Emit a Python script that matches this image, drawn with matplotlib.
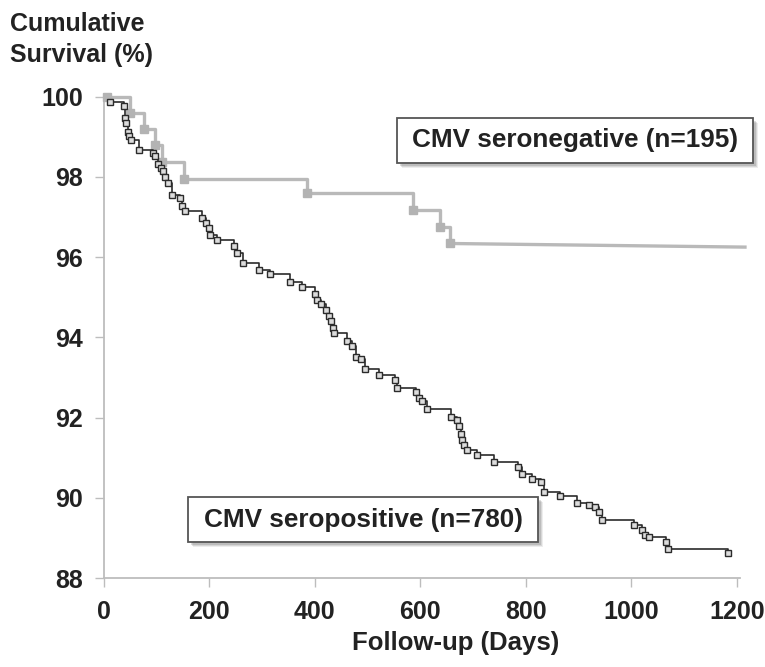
"""
Kaplan-Meier style cumulative survival: CMV seropositive vs seronegative.
"""
import numpy as np
import matplotlib
matplotlib.use("Agg")
import matplotlib.pyplot as plt
from matplotlib.patches import Rectangle

plt.rcParams["font.family"] = ["Liberation Sans", "DejaVu Sans"]

# ============================================================
# Data
# ============================================================

# CMV seropositive (n=780): event day and survival (%) after the event
pos_days = [12, 39, 41, 43, 46, 49, 52, 67, 94, 98, 104, 108, 113, 117, 123, 130,
            144, 149, 155, 187, 195, 199, 202, 215, 247, 253, 265, 294, 316, 354,
            376, 400, 404, 412, 422, 427, 430, 435, 437, 462, 471, 479, 488, 496,
            521, 553, 556, 591, 597, 603, 613, 659, 669, 673, 677, 679, 682, 689,
            708, 739, 786, 792, 812, 829, 834, 864, 897, 919, 930, 938, 944, 1004,
            1020, 1026, 1033, 1065, 1070, 1182]
pos_surv = [99.86, 99.76, 99.48, 99.35, 99.11, 99.01, 98.91, 98.68, 98.60, 98.51,
            98.31, 98.22, 98.14, 98.00, 97.85, 97.56, 97.47, 97.27, 97.15, 96.98,
            96.85, 96.73, 96.56, 96.42, 96.28, 96.11, 95.86, 95.69, 95.57, 95.38,
            95.26, 95.07, 94.94, 94.84, 94.69, 94.52, 94.40, 94.24, 94.10, 93.91,
            93.78, 93.52, 93.45, 93.20, 93.07, 92.93, 92.73, 92.64, 92.50, 92.42,
            92.21, 92.02, 91.94, 91.80, 91.60, 91.45, 91.31, 91.20, 91.06, 90.88,
            90.76, 90.60, 90.47, 90.39, 90.15, 90.04, 89.88, 89.82, 89.77, 89.65,
            89.44, 89.31, 89.19, 89.06, 89.02, 88.89, 88.73, 88.63]

# CMV seronegative (n=195)
neg_days = [7, 50, 77, 97, 110, 152, 386, 587, 638, 657]
neg_surv = [100.0, 99.6, 99.2, 98.8, 98.37, 97.95, 97.6, 97.17, 96.74, 96.34]
neg_end_day = 1215
neg_end_surv = 96.25

y_ticks = [88, 90, 92, 94, 96, 98, 100]
x_ticks = [0, 200, 400, 600, 800, 1000, 1200]

pos_label = "CMV seropositive (n=780)"
neg_label = "CMV seronegative (n=195)"

# ============================================================
# Figure
# ============================================================
W, H = 765, 667
fig = plt.figure(figsize=(W / 100, H / 100), dpi=100)
ax = fig.add_axes([103.5 / W, 1 - 578 / H, (739.7 - 103.5) / W, (578 - 96.7) / H])

text_c = "#222222"
grey_line = "#b9b9b9"
dark_line = "#2b2b2b"

# seronegative curve (thick light grey, filled markers)
ax.step(neg_days, neg_surv, where="post", color=grey_line, lw=2.4, clip_on=False, zorder=2)
ax.plot([neg_days[-1], neg_end_day], [neg_surv[-1], neg_end_surv], color=grey_line, lw=2.4,
        clip_on=False, zorder=2)
ax.plot(neg_days, neg_surv, ls="none", marker="s", ms=5.5, mfc="#b3b3b3", mec="#b3b3b3",
        clip_on=False, zorder=3)

# seropositive curve (thin dark, open markers)
ax.step(pos_days, pos_surv, where="post", color=dark_line, lw=1.2, clip_on=False, zorder=4)
ax.plot(pos_days, pos_surv, ls="none", marker="s", ms=4.6, mfc="#dcdcdc", mec=dark_line,
        mew=1.0, clip_on=False, zorder=5)

ax.set_xlim(0, 1205)
ax.set_ylim(88, 100)
ax.set_xticks(x_ticks)
ax.set_yticks(y_ticks)

for s in ["top", "right"]:
    ax.spines[s].set_visible(False)
for s in ["left", "bottom"]:
    ax.spines[s].set_color("#bdbdbd")
    ax.spines[s].set_linewidth(1.3)

ax.tick_params(axis="both", direction="out", length=6.5, width=1.0, color="#bdbdbd",
               labelsize=18, labelcolor=text_c)
ax.tick_params(axis="y", pad=8)
ax.tick_params(axis="x", pad=9)
for lab in ax.get_xticklabels() + ax.get_yticklabels():
    lab.set_fontweight("bold")

# axis titles
fig.text(10 / W, 1 - 12 / H, "Cumulative\nSurvival (%)", ha="left", va="top", fontsize=18,
         fontweight="bold", color=text_c, linespacing=1.35)
fig.text(456 / W, 1 - 643 / H, "Follow-up (Days)", ha="center", va="center", fontsize=18.5,
         fontweight="bold", color=text_c)


# boxed labels with a soft shadow
def boxed_label(x0, y0, x1, y1, text):
    for k, a in [(5, 0.10), (4, 0.15), (3, 0.2)]:
        fig.add_artist(Rectangle(((x0 + k) / W, 1 - (y1 + k) / H), (x1 - x0) / W, (y1 - y0) / H,
                                 transform=fig.transFigure, fc="#555555", ec="none", alpha=a,
                                 zorder=6))
    fig.add_artist(Rectangle((x0 / W, 1 - y1 / H), (x1 - x0) / W, (y1 - y0) / H,
                             transform=fig.transFigure, fc="white", ec="#555555", lw=1.3,
                             zorder=7))
    fig.text((x0 + x1) / 2 / W, 1 - (y0 + y1) / 2 / H, text, ha="center", va="center",
             fontsize=18.8, fontweight="bold", color=text_c, zorder=8)


boxed_label(397, 118, 753, 163, neg_label)
boxed_label(188, 497, 538, 542, pos_label)

plt.savefig("out.png", dpi=100)
print("Saved out.png")
